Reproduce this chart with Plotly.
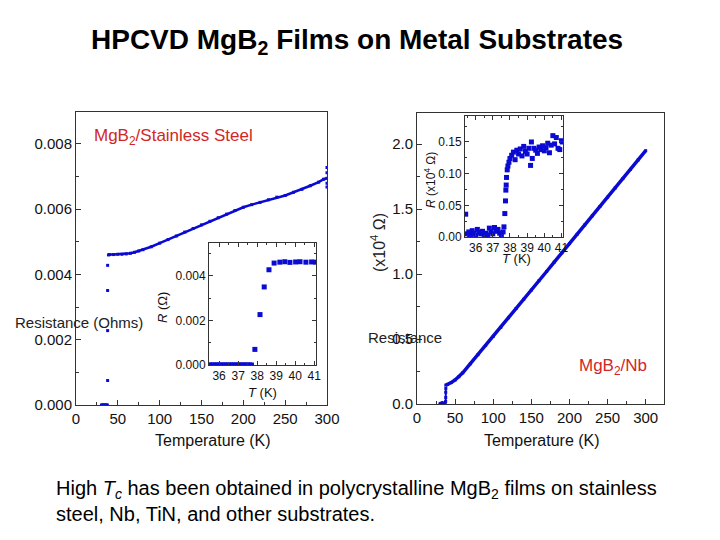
import plotly.graph_objects as go

# ---------------- data ----------------
# MgB2 / stainless steel, main panel (normal state)
ss_T = [38.8, 40, 45, 50, 55, 60, 65, 70, 75, 80, 90, 100, 110, 120, 130, 140, 150,
        160, 170, 180, 190, 200, 210, 220, 230, 240, 250, 260, 270, 280, 290, 296, 300]
ss_R = [0.00460, 0.00461, 0.00461, 0.00462, 0.00462, 0.00463, 0.00465, 0.00468, 0.00472,
        0.00476, 0.00485, 0.00496, 0.00507, 0.00518, 0.00530, 0.00541, 0.00552, 0.00563,
        0.00574, 0.00585, 0.00596, 0.00606, 0.00614, 0.00621, 0.00629, 0.00637, 0.00642,
        0.00652, 0.00661, 0.00672, 0.00683, 0.00692, 0.00695]
# superconducting state, transition and end-point scatter (main panel)
ss_pts_T = [30.5, 31.5, 32.5, 33.5, 34.5, 35.5, 36.5, 37.5, 37.8, 37.8, 37.8, 37.8,
            300, 300, 300, 300]
ss_pts_R = [0.0, 0.0, 0.0, 0.0, 0.0, 0.0, 0.0, 0.0, 0.00075, 0.00228, 0.00351, 0.00428,
            0.00668, 0.00680, 0.00712, 0.00728]

# stainless steel inset
ssi_T = [35.5, 35.6, 35.7, 35.8, 35.9, 36.0, 36.1, 36.2, 36.3, 36.4, 36.5, 36.6, 36.7,
         36.8, 36.9, 37.0, 37.1, 37.2, 37.3, 37.4, 37.5, 37.6, 37.7,
         37.88, 38.15, 38.37, 38.62, 38.89, 39.19, 39.45, 39.72, 40.02, 40.25, 40.56,
         40.86, 41.08]
ssi_R = [0.0] * 23 + [0.00070, 0.00226, 0.00350, 0.00427, 0.00457, 0.00461, 0.00463,
                      0.00460, 0.00462, 0.00463, 0.00461, 0.00462, 0.00461]

# MgB2 / Nb, main panel (units as on the axis)
nb_T = [37.8, 40, 45, 50, 55, 60, 70, 80, 90, 100, 110, 120, 130, 140, 150, 160, 170,
        180, 190, 200, 210, 220, 230, 240, 250, 260, 270, 280, 290, 300]
nb_R = [0.145, 0.150, 0.165, 0.185, 0.210, 0.240, 0.310, 0.380, 0.450, 0.520, 0.590,
        0.663, 0.735, 0.806, 0.877, 0.949, 1.020, 1.092, 1.163, 1.235, 1.306, 1.378,
        1.449, 1.520, 1.592, 1.663, 1.735, 1.806, 1.878, 1.950]
nb_pts_T = [30, 31, 32, 33, 34, 35, 36, 37, 37.6, 37.7, 37.7, 37.8]
nb_pts_R = [0.0, 0.005, 0.0, 0.01, 0.0, 0.005, 0.0, 0.01, 0.02, 0.05, 0.09, 0.12]

# Nb inset
nbi_T = [35.42, 35.5, 35.6, 35.7, 35.8, 35.9, 36.0, 36.1, 36.2, 36.3, 36.4, 36.5, 36.6,
         36.7, 36.8, 36.9, 37.0, 37.1, 37.2, 37.3, 37.4, 37.5, 37.6, 37.65,
         37.70, 37.74, 37.76, 37.78, 37.80, 37.84, 37.88, 37.94, 38.0, 38.1, 38.2,
         38.3, 38.4, 38.5, 38.6, 38.7, 38.8, 38.9, 39.0, 39.1, 39.2, 39.25, 39.3, 39.4,
         39.5, 39.6, 39.7, 39.8, 39.9, 40.0, 40.1, 40.2, 40.3, 40.4, 40.5, 40.6, 40.7,
         40.8, 40.9, 41.0, 41.05]
nbi_R = [0.036, 0.005, 0.008, 0.004, 0.010, 0.006, 0.003, 0.012, 0.007, 0.005, 0.009,
         0.004, 0.006, 0.003, 0.014, 0.008, 0.005, 0.015, 0.009, 0.012, 0.006, 0.004,
         0.008, 0.016,
         0.037, 0.057, 0.074, 0.082, 0.094, 0.106, 0.112, 0.118, 0.124, 0.129, 0.134,
         0.122, 0.137, 0.131, 0.139, 0.128, 0.143, 0.135, 0.131, 0.140, 0.113, 0.150,
         0.124, 0.140, 0.137, 0.132, 0.142, 0.138, 0.144, 0.136, 0.141, 0.148, 0.133,
         0.145, 0.160, 0.147, 0.157, 0.140, 0.138, 0.152, 0.150]

main_xticks = [0, 50, 100, 150, 200, 250, 300]
ss_yticks = [0.000, 0.002, 0.004, 0.006, 0.008]
nb_yticks = [0.0, 0.5, 1.0, 1.5, 2.0]
inset_xticks = [36, 37, 38, 39, 40, 41]
ssi_yticks = [0.000, 0.002, 0.004]
nbi_yticks = [0.00, 0.05, 0.10, 0.15]

# ---------------- styling ----------------
W, H = 720, 540
OFF = 8  # page body margin that offsets the figure in the browser
BLUE = "#0a0ad2"
RED = "#d22626"
FONT = "Liberation Sans, Arial, sans-serif"


def px(x):
    return (x - OFF) / W


def py(y):
    return 1 - (y - OFF) / H


fig = go.Figure()

# main panels
fig.add_trace(go.Scatter(x=ss_T, y=ss_R, mode="lines+markers", xaxis="x", yaxis="y",
                         line=dict(color=BLUE, width=2.5),
                         marker=dict(symbol="square", size=3, color=BLUE)))
fig.add_trace(go.Scatter(x=ss_pts_T, y=ss_pts_R, mode="markers", xaxis="x", yaxis="y",
                         marker=dict(symbol="square", size=3, color=BLUE)))
fig.add_trace(go.Scatter(x=nb_T, y=nb_R, mode="lines+markers", xaxis="x2", yaxis="y2",
                         line=dict(color=BLUE, width=3.5),
                         marker=dict(symbol="square", size=3, color=BLUE)))
fig.add_trace(go.Scatter(x=nb_pts_T, y=nb_pts_R, mode="lines+markers", xaxis="x2", yaxis="y2",
                         line=dict(color=BLUE, width=2),
                         marker=dict(symbol="square", size=3, color=BLUE)))
# insets
fig.add_trace(go.Scatter(x=ssi_T, y=ssi_R, mode="markers", xaxis="x3", yaxis="y3",
                         marker=dict(symbol="square", size=5, color=BLUE)))
fig.add_trace(go.Scatter(x=nbi_T, y=nbi_R, mode="markers", xaxis="x4", yaxis="y4",
                         marker=dict(symbol="square", size=5, color=BLUE)))

axis_common = dict(showline=True, linecolor="#333333", linewidth=1, mirror=True,
                   showgrid=False, zeroline=False, ticks="inside", automargin=False,
                   tickcolor="#333333", tickfont=dict(family=FONT, size=15, color="#111111"))
inset_common = dict(showline=True, linecolor="#333333", linewidth=1, mirror="ticks",
                    showgrid=False, zeroline=False, ticks="inside", ticklen=4,
                    automargin=False,
                    tickcolor="#333333", tickfont=dict(family=FONT, size=12, color="#111111"))

fig.update_layout(
    width=W, height=H, margin=dict(l=0, r=0, t=0, b=0, pad=0, autoexpand=False),
    paper_bgcolor="white", plot_bgcolor="white", showlegend=False,
    xaxis=dict(axis_common, domain=[px(76), px(327)], range=[0, 300], anchor="y",
               tickvals=main_xticks, ticklen=5,
               minor=dict(ticks="inside", ticklen=3, dtick=25, tick0=0, tickcolor="#333333")),
    yaxis=dict(axis_common, domain=[py(405), py(112)], range=[0, 0.00898], anchor="x",
               tickvals=ss_yticks, tickformat=".3f", ticklen=5,
               minor=dict(ticks="inside", ticklen=3, dtick=0.001, tick0=0, tickcolor="#333333")),
    xaxis2=dict(axis_common, domain=[px(417), px(664)], range=[0, 324], anchor="y2",
                tickvals=main_xticks, ticklen=5,
                minor=dict(ticks="inside", ticklen=3, dtick=25, tick0=0, tickcolor="#333333")),
    yaxis2=dict(axis_common, domain=[py(404), py(113)], range=[0, 2.24], anchor="x2",
                tickvals=nb_yticks, tickformat=".1f", ticklen=5,
                minor=dict(ticks="inside", ticklen=3, dtick=0.25, tick0=0, tickcolor="#333333")),
    xaxis3=dict(inset_common, domain=[px(209), px(316)], range=[35.47, 41.09], anchor="y3",
                tickvals=inset_xticks,
                minor=dict(ticks="inside", ticklen=2, dtick=0.5, tick0=0, tickcolor="#333333")),
    yaxis3=dict(inset_common, domain=[py(365), py(243)], range=[0, 0.00547], anchor="x3",
                tickvals=ssi_yticks, tickformat=".3f",
                minor=dict(ticks="inside", ticklen=2, dtick=0.001, tick0=0, tickcolor="#333333")),
    xaxis4=dict(inset_common, domain=[px(465), px(563)], range=[35.38, 41.09], anchor="y4",
                tickvals=inset_xticks,
                minor=dict(ticks="inside", ticklen=2, dtick=0.5, tick0=0, tickcolor="#333333")),
    yaxis4=dict(inset_common, domain=[py(237), py(116)], range=[0, 0.191], anchor="x4",
                tickvals=nbi_yticks, tickformat=".2f",
                minor=dict(ticks="inside", ticklen=2, dtick=0.025, tick0=0, tickcolor="#333333")),
)


def note(text, x, y, size, color="#111111", xanchor="center", yanchor="middle",
         angle=0, align="center"):
    fig.add_annotation(text=text, x=px(x), y=py(y), xref="paper", yref="paper",
                       xanchor=xanchor, yanchor=yanchor, showarrow=False,
                       textangle=angle, align=align, borderpad=0,
                       font=dict(family=FONT, size=size, color=color))


# titles and body text
note("<b>HPCVD MgB<sub>2</sub> Films on Metal Substrates</b>", 357, 41, 28, "#000000")
note("High <i>T<sub>c</sub></i> has been obtained in polycrystalline MgB<sub>2</sub> films on stainless"
     "<br>steel, Nb, TiN, and other substrates.", 55, 501, 20, "#000000",
     xanchor="left", align="left")

# panel labels
note("MgB<sub>2</sub>/Stainless Steel", 93, 137, 17, RED, xanchor="left")
note("MgB<sub>2</sub>/Nb", 578, 367, 17, RED, xanchor="left")

# axis titles
note("Temperature (K)", 213, 440, 16)
note("Temperature (K)", 542, 440, 16)
note("<i>T</i> (K)", 262, 392, 13)
note("<i>T</i> (K)", 516, 258, 13)
note("Resistance (Ohms)", 14, 322, 15, "#222222", xanchor="left")
note("Resistance", 367, 337, 15, "#222222", xanchor="left")
note("(x10<sup>4</sup> Ω)", 378, 242, 16, "#222222", angle=-90)
note("<i>R</i> (Ω)", 162, 308, 13, angle=-90)
note("<i>R</i> (x10<sup>4</sup> Ω)", 430, 180, 12, angle=-90)

fig.write_html("out.html")
